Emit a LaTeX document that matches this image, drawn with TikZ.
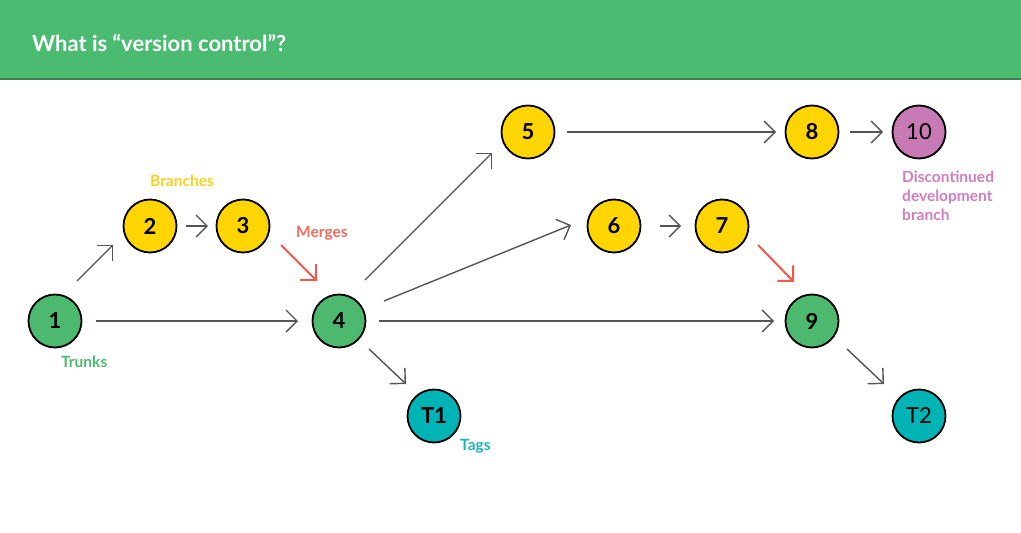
\documentclass[tikz,border=0pt]{standalone}
\usepackage{fontspec}
\setmainfont{Lato}
\usetikzlibrary{arrows.meta}
\definecolor{hdr}{HTML}{4CBB72}
\definecolor{hdrdark}{HTML}{3A7F52}
\definecolor{cyellow}{HTML}{FFD500}
\definecolor{cgreen}{HTML}{4CB96E}
\definecolor{cpurple}{HTML}{C87AB5}
\definecolor{cteal}{HTML}{00B3B5}
\definecolor{lyellow}{HTML}{F8D21A}
\definecolor{lred}{HTML}{F26B5B}
\definecolor{lgreen}{HTML}{4CB96E}
\definecolor{lteal}{HTML}{1DB6B9}
\definecolor{lpurple}{HTML}{D17DBF}
\definecolor{arrgray}{HTML}{555555}
\definecolor{arrred}{HTML}{F0584A}
\begin{document}
\begin{tikzpicture}[x=1pt,y=-1pt,
  cnode/.style={circle, draw=black, line width=1.8pt, minimum size=53pt, inner sep=0pt,
    font=\bfseries\fontsize{22}{24}\selectfont},
  cnodereg/.style={cnode, font=\fontsize{22}{24}\selectfont},
  conn/.style={draw=arrgray, line width=1.4pt, -{Straight Barb[length=11pt,width=22pt,line width=1.4pt]}},
  mconn/.style={draw=arrred, line width=2pt, -{Straight Barb[length=11pt,width=22pt,line width=2pt]}},
  lbl/.style={inner sep=0pt, font=\bfseries\fontsize{15.5}{19}\selectfont}]
\useasboundingbox (0,0) rectangle (1021,533);
\fill[white] (0,0) rectangle (1021,533);
\fill[hdr] (0,0) rectangle (1021,78);
\fill[hdrdark] (0,78) rectangle (1021,80);
\node[anchor=west, inner sep=0pt, text=white, font=\bfseries\fontsize{22}{26}\selectfont] (title) at (32,43) {What is “version control”?};

% nodes
\node[cnode, fill=cgreen]  (n1) at (55,321) {1};
\node[cnode, fill=cyellow] (n2) at (150,226) {2};
\node[cnode, fill=cyellow] (n3) at (243,226) {3};
\node[cnode, fill=cgreen]  (n4) at (339,321) {4};
\node[cnode, fill=cyellow] (n5) at (528,132) {5};
\node[cnode, fill=cyellow] (n6) at (614,226) {6};
\node[cnode, fill=cyellow] (n7) at (722,226) {7};
\node[cnode, fill=cyellow] (n8) at (812,132) {8};
\node[cnodereg, fill=cpurple] (n10) at (919,132) {10};
\node[cnode, fill=cgreen]  (n9) at (812,321) {9};
\node[cnode, fill=cteal]   (t1) at (434,416) {T1};
\node[cnodereg, fill=cteal] (t2) at (919,416) {T2};

% labels
\node[lbl, text=lyellow, anchor=west] (lbranch) at (150,181) {Branches};
\node[lbl, text=lred, anchor=west] (lmerge) at (296,233) {Merges};
\node[lbl, text=lgreen, anchor=west] (ltrunk) at (61,362) {Trunks};
\node[lbl, text=lteal, anchor=west] (ltag) at (460,446) {Tags};
\node[lbl, text=lpurple, anchor=west, align=left] (ldisc) at (902,196) {Discontinued\\development\\branch};

% connectors
\draw[conn] ([xshift=41pt]n1.center) -- ([xshift=-41pt]n4.center);
\draw[conn] ([xshift=22pt,yshift=40pt]n1.center) -- ([xshift=-37pt,yshift=-19pt]n2.center);
\draw[conn] ([xshift=36pt]n2.center) -- ([xshift=-35pt]n3.center);
\draw[mconn] ([xshift=38pt,yshift=-19pt]n3.center) -- ([xshift=-22pt,yshift=40pt]n4.center);
\draw[conn] ([xshift=26pt,yshift=41pt]n4.center) -- ([xshift=-36pt,yshift=-21pt]n5.center);
\draw[conn] ([xshift=45pt,yshift=20pt]n4.center) -- ([xshift=-43pt,yshift=1pt]n6.center);
\draw[conn] ([xshift=40pt]n4.center) -- ([xshift=-38pt]n9.center);
\draw[conn] ([xshift=30pt,yshift=-28pt]n4.center) -- ([xshift=-28pt,yshift=32pt]t1.center);
\draw[conn] ([xshift=39pt]n5.center) -- ([xshift=-36pt]n8.center);
\draw[conn] ([xshift=46pt]n6.center) -- ([xshift=-41pt]n7.center);
\draw[mconn] ([xshift=36pt,yshift=-19pt]n7.center) -- ([xshift=-18pt,yshift=39pt]n9.center);
\draw[conn] ([xshift=38pt]n8.center) -- ([xshift=-36pt]n10.center);
\draw[conn] ([xshift=35pt,yshift=-28pt]n9.center) -- ([xshift=-35pt,yshift=32pt]t2.center);
\end{tikzpicture}
\end{document}
